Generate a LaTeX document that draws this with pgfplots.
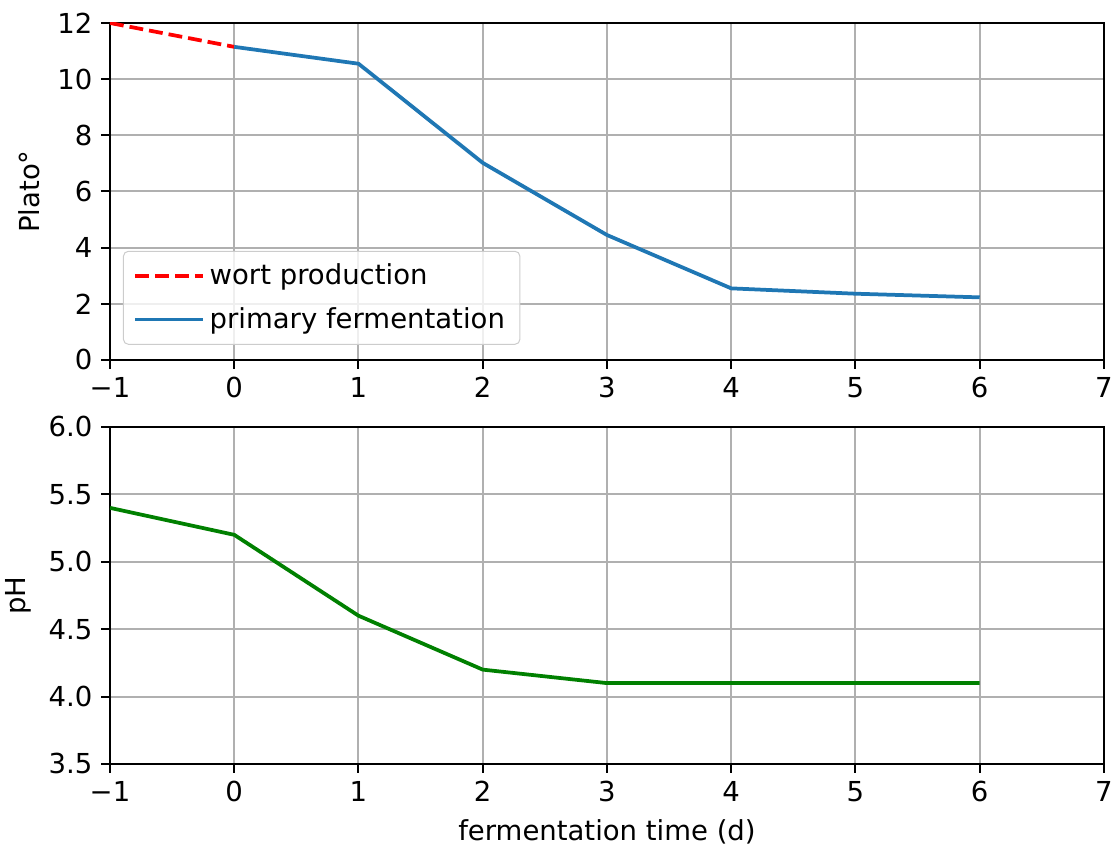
\documentclass[border=0pt]{standalone}
\usepackage{pgfplots}
\pgfplotsset{compat=1.18}
\usepackage{fontspec}
\setmainfont{DejaVu Sans}

\definecolor{mplblue}{HTML}{1F77B4}
\definecolor{mplgreen}{HTML}{008000}
\definecolor{gridgray}{HTML}{B0B0B0}
\definecolor{legendgray}{HTML}{CCCCCC}

\pgfplotsset{
  panel/.style={
    scale only axis,
    width=397.6pt, height=134.8pt,
    xmin=-1, xmax=7,
    xtick={-1,0,...,7},
    xticklabels={−1,0,1,2,3,4,5,6,7},
    grid=major,
    major grid style={gridgray, line width=0.8pt},
    axis line style={line width=0.8pt},
    tick style={black, line width=0.8pt},
    tick align=outside,
    major tick length=3.5pt,
    xtick pos=bottom, ytick pos=left,
    /pgf/number format/assume math mode=true,
    ticklabel style={font=\fontsize{11}{13}\selectfont},
    label style={font=\fontsize{11}{13}\selectfont},
  },
}

\begin{document}
\begin{tikzpicture}
\begin{axis}[panel,
  name=top,
  at={(0,0)}, anchor=south west,
  ymin=0, ymax=12,
  ytick={0,2,...,12},
  ylabel={Plato°},
  legend cell align=left,
  legend style={at={(0.013,0.045)}, anchor=south west,
    draw=legendgray, rounded corners=2pt, fill=white, fill opacity=0.8, text opacity=1,
    font=\fontsize{11}{13}\selectfont, row sep=3.5pt, inner xsep=4pt, inner ysep=3pt},
  legend image code/.code={\draw[#1] (0pt,0pt) -- (22pt,0pt); \path (0pt,0pt) -- (27pt,0pt);},
]
\addplot[red, line width=1.5pt, dash pattern=on 5.55pt off 2.4pt] coordinates {
  (-1,12.0) (0,11.15)
};
\addlegendentry{wort production}
\addplot[mplblue, line width=1.5pt] coordinates {
  (0,11.15) (1,10.55) (2,7.02) (3,4.45) (4,2.55) (5,2.36) (6,2.23)
};
\addlegendentry{primary fermentation}
\end{axis}

\begin{axis}[panel,
  name=bottom,
  at={(0,-161.6pt)}, anchor=south west,
  ymin=3.5, ymax=6.0,
  ytick={3.5,4.0,...,6.0},
  yticklabel style={/pgf/number format/.cd, fixed, fixed zerofill, precision=1},
  ylabel={pH},
  xlabel={fermentation time (d)},
]
\addplot[mplgreen, line width=1.5pt] coordinates {
  (-1,5.4) (0,5.2) (1,4.6) (2,4.2) (3,4.1) (4,4.1) (5,4.1) (6,4.1)
};
\end{axis}

\pgfresetboundingbox
\path[use as bounding box] (-44pt,-194.8pt) rectangle (401.6pt,144pt);
\end{tikzpicture}
\end{document}
